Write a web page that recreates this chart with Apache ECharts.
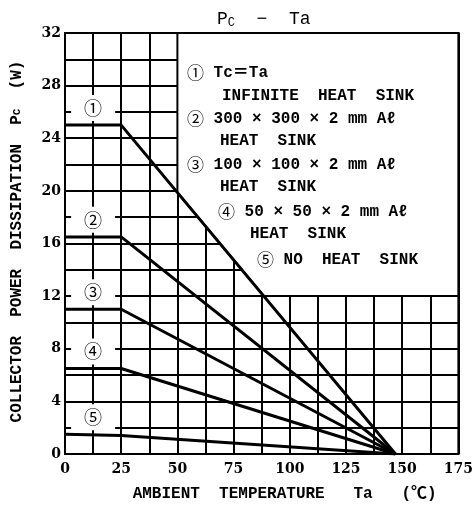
<!DOCTYPE html>
<html>
<head>
<meta charset="utf-8">
<script src="https://cdn.jsdelivr.net/npm/echarts@6/dist/echarts.min.js"></script>
<style>html,body{margin:0;padding:0;background:#fff}#c{width:476px;height:507px}</style>
</head>
<body>
<div id="c"></div>
<script>
// ---- data ----
var ta = [0, 25, 147];                 // ambient temperature (°C)
var curve1 = [25, 25, 0];              // ① Tc = Ta, infinite heat sink
var curve2 = [16.5, 16.5, 0];          // ② 300x300x2mm Al
var curve3 = [11, 11, 0];              // ③ 100x100x2mm Al
var curve4 = [6.5, 6.5, 0];            // ④ 50x50x2mm Al
var curve5 = [1.5, 1.4, 0];            // ⑤ no heat sink
var curveTags = ['①', '②', '③', '④', '⑤'];
var legendLines = [
  '{c|①} Tc＝Ta',
  'INFINITE  HEAT  SINK',
  '{c|②} 300 × 300 × 2 mm Aℓ',
  'HEAT  SINK',
  '{c|③} 100 × 100 × 2 mm Aℓ',
  'HEAT  SINK',
  '{c|④} 50 × 50 × 2 mm Aℓ',
  'HEAT  SINK',
  '{c|⑤} NO  HEAT  SINK'
];

var MONO = "'Liberation Mono','DejaVu Sans Mono','Noto Sans CJK JP',monospace";
var SERIF = "'DejaVu Serif','Liberation Serif',serif";
var CJK = "'Noto Sans CJK JP','DejaVu Sans',sans-serif";
var curves = [curve1, curve2, curve3, curve4, curve5];

function pairs(ys) { return ta.map(function (t, i) { return [t, ys[i]]; }); }

var series = curves.map(function (c, k) {
  return {
    type: 'line', data: pairs(c), symbol: 'none', z: 5,
    lineStyle: { color: '#000', width: 3 },
    markPoint: {
      symbol: 'rect', symbolSize: [44, 26],
      itemStyle: { color: '#fff' },
      label: { show: true, formatter: curveTags[k], color: '#000', fontSize: 18, fontFamily: CJK },
      data: [{ coord: [12.5, c[0] + 1.3] }]
    }
  };
});

// white legend panel (right of curve ①, above 12 W, right of 50 °C)
var boxX = 50, boxY = 12;
series.unshift({
  type: 'custom', z: 3, silent: true, data: [0],
  renderItem: function (params, api) {
    var x1 = ta[1], y1 = curve1[1], x2 = ta[2], y2 = curve1[2];
    var yAtBox = y1 + (y2 - y1) * (boxX - x1) / (x2 - x1);
    var xAtBottom = x1 + (x2 - x1) * (boxY - y1) / (y2 - y1);
    var pts = [[boxX, 32], [175, 32], [175, boxY], [xAtBottom, boxY], [boxX, yAtBox]].map(function (p) { return api.coord(p); });
    return { type: 'polygon', shape: { points: pts },
             style: { fill: '#fff', stroke: '#000', lineWidth: 2 } };
  }
});

// legend text layout (pixel positions of each line)
var legendX = [187, 222, 187, 220, 187, 220, 218, 250, 257];
var legendY = [73, 97, 119, 142, 165, 188, 212, 235, 260];

var chart = echarts.init(document.getElementById('c'), null, { renderer: 'canvas' });
chart.setOption({
  animation: false,
  backgroundColor: '#fff',
  title: {
    text: '{p|P}{s|C}{p|  −  Ta}', left: 212, top: 4,
    textStyle: { rich: {
      p: { fontSize: 18, fontFamily: MONO, color: '#000', fontWeight: 'normal' },
      s: { fontSize: 12, fontFamily: MONO, color: '#000', fontWeight: 'normal', padding: [8, 0, 0, 0] }
    } }
  },
  grid: { left: 65, right: 11, top: 33, bottom: 52, show: true, borderColor: '#000', borderWidth: 2 },
  xAxis: {
    type: 'value', min: 0, max: 175, interval: 25,
    axisLine: { show: true, lineStyle: { color: '#000', width: 2 } },
    axisTick: { show: false },
    minorTick: { show: false, splitNumber: 2 },
    splitLine: { show: true, lineStyle: { color: '#000', width: 2 } },
    minorSplitLine: { show: true, lineStyle: { color: '#000', width: 2 } },
    axisLabel: { color: '#000', fontSize: 14, fontFamily: SERIF, fontWeight: 'bold', margin: 8 },
    name: 'AMBIENT  TEMPERATURE   Ta   (℃)', nameLocation: 'middle', nameGap: 32,
    nameTextStyle: { color: '#000', fontSize: 16, fontFamily: MONO, fontWeight: 'bold', padding: [0, 0, 0, 46] }
  },
  yAxis: {
    type: 'value', min: 0, max: 32, interval: 4,
    axisLine: { show: true, lineStyle: { color: '#000', width: 2 } },
    axisTick: { show: false },
    minorTick: { show: false, splitNumber: 2 },
    splitLine: { show: true, lineStyle: { color: '#000', width: 2 } },
    minorSplitLine: { show: true, lineStyle: { color: '#000', width: 2 } },
    axisLabel: { color: '#000', fontSize: 14, fontFamily: SERIF, fontWeight: 'bold', margin: 4 },
    name: '{a|COLLECTOR  POWER  DISSIPATION  P}{s|C}{a|  (W)}', nameLocation: 'middle', nameGap: 40,
    nameTextStyle: { color: '#000', padding: [0, 0, 0, 4], rich: {
      a: { fontSize: 16, fontFamily: MONO, fontWeight: 'bold', color: '#000' },
      s: { fontSize: 11, fontFamily: MONO, fontWeight: 'bold', color: '#000' }
    } }
  },
  graphic: legendLines.map(function (t, i) {
    return { type: 'text', left: legendX[i], top: legendY[i] - 9, z: 10,
             style: { text: t, fill: '#000', fontSize: 16, fontFamily: MONO, fontWeight: 'bold',
                      rich: { c: { fontSize: 17, fontFamily: CJK, fontWeight: 'normal', fill: '#000' } } } };
  }),
  series: series
});
</script>
</body>
</html>
